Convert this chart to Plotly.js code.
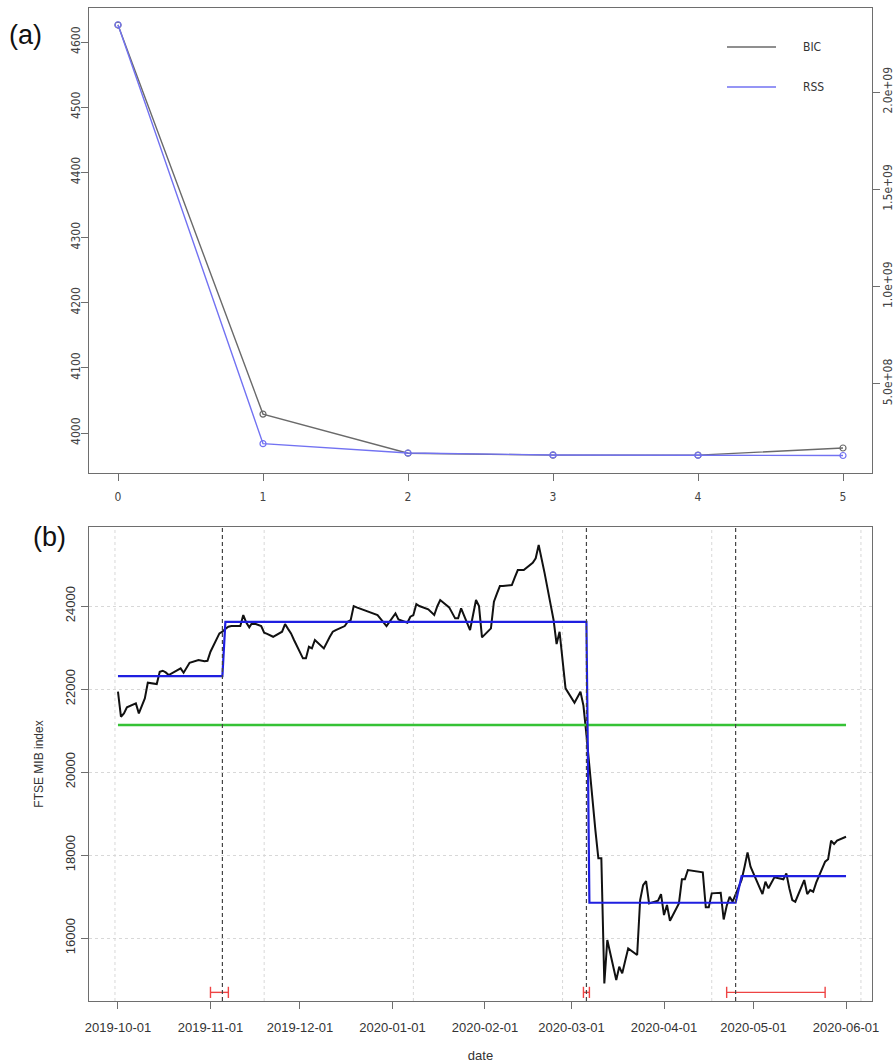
<!DOCTYPE html>
<html>
<head>
<meta charset="utf-8">
<script src="https://cdn.plot.ly/plotly-3.0.1.min.js"></script>
<style>html,body{margin:0;padding:0;background:#fff;}#chart{width:896px;height:1063px;}</style>
</head>
<body>
<div id="chart"></div>
<script>
// ---------- Panel (a) data ----------
const nBreaks = [0, 1, 2, 3, 4, 5];
const bicValues = [4626, 4029, 3969, 3966, 3966, 3977];
const rssValues = [2.346e9, 1.92e8, 1.44e8, 1.34e8, 1.32e8, 1.31e8];
const rssTickVals = [5e8, 1e9, 1.5e9, 2e9];
const rssTickText = ["5.0e+08", "1.0e+09", "1.5e+09", "2.0e+09"];
const bicTickVals = [4000, 4100, 4200, 4300, 4400, 4500, 4600];

// ---------- Panel (b) data ----------
const seriesDates = [
"2019-10-01","2019-10-02","2019-10-03","2019-10-04","2019-10-07","2019-10-08","2019-10-10","2019-10-11",
"2019-10-14","2019-10-15","2019-10-16","2019-10-17","2019-10-18","2019-10-21","2019-10-22","2019-10-23",
"2019-10-24","2019-10-25","2019-10-28","2019-10-29","2019-10-30","2019-10-31","2019-11-01","2019-11-04",
"2019-11-05","2019-11-06","2019-11-07","2019-11-08","2019-11-11","2019-11-12","2019-11-13","2019-11-14",
"2019-11-15","2019-11-18","2019-11-19","2019-11-20","2019-11-21","2019-11-22","2019-11-25","2019-11-26",
"2019-11-27","2019-11-28","2019-11-29","2019-12-02","2019-12-03","2019-12-04","2019-12-05","2019-12-06",
"2019-12-09","2019-12-10","2019-12-11","2019-12-12","2019-12-13","2019-12-16","2019-12-17","2019-12-18",
"2019-12-19","2019-12-20","2019-12-23","2019-12-27","2019-12-30","2020-01-02","2020-01-03","2020-01-06",
"2020-01-07","2020-01-08","2020-01-09","2020-01-10","2020-01-13","2020-01-14","2020-01-15","2020-01-16",
"2020-01-17","2020-01-20","2020-01-21","2020-01-22","2020-01-23","2020-01-24","2020-01-27","2020-01-28",
"2020-01-29","2020-01-30","2020-01-31","2020-02-03","2020-02-04","2020-02-05","2020-02-06","2020-02-07",
"2020-02-10","2020-02-11","2020-02-12","2020-02-13","2020-02-14","2020-02-17","2020-02-18","2020-02-19",
"2020-02-20","2020-02-21","2020-02-24","2020-02-25","2020-02-26","2020-02-27","2020-02-28","2020-03-02",
"2020-03-03","2020-03-04","2020-03-05","2020-03-06","2020-03-09","2020-03-10","2020-03-11","2020-03-12",
"2020-03-13","2020-03-16","2020-03-17","2020-03-18","2020-03-19","2020-03-20","2020-03-23","2020-03-24",
"2020-03-25","2020-03-26","2020-03-27","2020-03-30","2020-03-31","2020-04-01","2020-04-02","2020-04-03",
"2020-04-06","2020-04-07","2020-04-08","2020-04-09","2020-04-14","2020-04-15","2020-04-16","2020-04-17",
"2020-04-20","2020-04-21","2020-04-22","2020-04-23","2020-04-24","2020-04-27","2020-04-28","2020-04-29",
"2020-04-30","2020-05-04","2020-05-05","2020-05-06","2020-05-07","2020-05-08","2020-05-11","2020-05-12",
"2020-05-13","2020-05-14","2020-05-15","2020-05-18","2020-05-19","2020-05-20","2020-05-21","2020-05-22",
"2020-05-25","2020-05-26","2020-05-27","2020-05-28","2020-05-29","2020-06-01"];
const seriesValues = [
21935,21333,21414,21558,21655,21414,21775,22152,
22120,22417,22441,22400,22337,22458,22498,22393,
22520,22634,22699,22682,22670,22682,22899,23342,
23381,23450,23502,23518,23518,23783,23600,23486,
23598,23518,23357,23330,23290,23260,23381,23566,
23450,23340,23181,22739,22739,23019,22980,23181,
22980,23140,23260,23381,23422,23518,23622,23663,
24000,23968,23887,23783,23518,23823,23679,23598,
23743,23783,24048,24000,23920,23850,23783,23990,
24145,23968,23840,23703,23703,23944,23422,23780,
24145,24000,23245,23462,24104,24300,24482,24482,
24506,24690,24868,24868,24868,25044,25150,25470,
25130,24788,23663,23084,23381,22700,22017,21670,
21800,21935,21600,20900,18602,17920,17920,14907,
15951,14987,15307,15148,15450,15750,15590,16915,
17276,17373,16835,16900,17059,16553,16794,16416,
16835,17414,17414,17638,17582,16739,16739,17076,
17092,16448,16770,16995,16874,17397,17718,18064,
17718,17059,17357,17197,17330,17462,17414,17558,
17200,16915,16874,17397,17059,17156,17116,17333,
17839,17896,18344,18264,18350,18440];

const fitDates = ["2019-10-01","2019-11-05","2019-11-06","2020-03-06","2020-03-07","2020-04-25","2020-04-27","2020-06-01"];
const fitValues = [22313,22313,23618,23618,16850,16850,17490,17490];
const meanDates = ["2019-10-01","2020-06-01"];
const meanValues = [21132,21132];
const breakDates = ["2019-11-05","2020-03-06","2020-04-25"];
const ciLower = ["2019-11-01","2020-03-05","2020-04-22"];
const ciUpper = ["2019-11-07","2020-03-07","2020-05-25"];
const ciLevel = 14690;
const gridDates = ["2019-09-30","2019-11-19","2020-01-08","2020-02-27","2020-04-17","2020-06-06"];
const monthTicks = ["2019-10-01","2019-11-01","2019-12-01","2020-01-01","2020-02-01","2020-03-01","2020-04-01","2020-05-01","2020-06-01"];
const indexTicks = [16000, 18000, 20000, 22000, 24000];
const indexTickText = ["16000", "18000", "20000", "22000", "24000"];

// ---------- styling ----------
const narrow = "Liberation Sans Narrow, Arial Narrow, DejaVu Sans Condensed, sans-serif";
const sans = "Liberation Sans, Arial, sans-serif";
const frame = "#6e6e6e";
const bicColor = "#6a6a6a";
const rssColor = "#7272f2";

// CI segments built from arrays
const ciX = [], ciY = [];
for (let i = 0; i < ciLower.length; i++) {
  ciX.push(ciLower[i], ciUpper[i], null);
  ciY.push(ciLevel, ciLevel, null);
}

const traces = [
  {x: nBreaks, y: bicValues, xaxis: "x", yaxis: "y", mode: "lines", line: {color: bicColor, width: 1.4}, showlegend: false},
  {x: nBreaks, y: bicValues, xaxis: "x", yaxis: "y", mode: "markers", marker: {symbol: "circle-open", size: 6, color: bicColor, line: {width: 1.2}}, showlegend: false},
  {x: nBreaks, y: rssValues, xaxis: "x", yaxis: "y2", mode: "lines", line: {color: rssColor, width: 1.4}, showlegend: false},
  {x: nBreaks, y: rssValues, xaxis: "x", yaxis: "y2", mode: "markers", marker: {symbol: "circle-open", size: 6, color: rssColor, line: {width: 1.2}}, showlegend: false},

  {x: seriesDates, y: seriesValues, xaxis: "x2", yaxis: "y3", mode: "lines", line: {color: "#111111", width: 2}, showlegend: false},
  {x: meanDates, y: meanValues, xaxis: "x2", yaxis: "y3", mode: "lines", line: {color: "#36c236", width: 2.6}, showlegend: false},
  {x: fitDates, y: fitValues, xaxis: "x2", yaxis: "y3", mode: "lines", line: {color: "#1f1fe0", width: 2.2}, showlegend: false},
  {x: ciX, y: ciY, xaxis: "x2", yaxis: "y3", mode: "lines+markers", line: {color: "#ee4444", width: 1.4},
   marker: {symbol: "line-ns-open", size: 8, color: "#ee4444", line: {width: 1.4, color: "#ee4444"}}, showlegend: false}
];

const shapes = [];
gridDates.forEach(d => shapes.push({type: "line", xref: "x2", yref: "y3 domain", x0: d, x1: d, y0: 0, y1: 1,
  line: {color: "#d8d8d8", width: 1, dash: "dot"}, layer: "below"}));
breakDates.forEach(d => shapes.push({type: "line", xref: "x2", yref: "y3 domain", x0: d, x1: d, y0: 0, y1: 1,
  line: {color: "#444444", width: 1.2, dash: "4px,3px"}, layer: "above"}));
// legend samples for panel (a)
shapes.push({type: "line", xref: "paper", yref: "paper", x0: 0.8148, x1: 0.8774, y0: 0.9607, y1: 0.9607, line: {color: bicColor, width: 1.6}});
shapes.push({type: "line", xref: "paper", yref: "paper", x0: 0.8148, x1: 0.8774, y0: 0.9204, y1: 0.9204, line: {color: rssColor, width: 1.6}});

const annotations = [
  {text: "(a)", xref: "paper", yref: "paper", x: -0.081, y: 0.9728, xanchor: "center", yanchor: "middle", showarrow: false, font: {family: sans, size: 27, color: "#111"}},
  {text: "(b)", xref: "paper", yref: "paper", x: -0.050, y: 0.4673, xanchor: "center", yanchor: "middle", showarrow: false, font: {family: sans, size: 27, color: "#111"}},
  {text: "BIC", xref: "paper", yref: "paper", x: 0.9093, y: 0.9607, xanchor: "left", yanchor: "middle", showarrow: false, font: {family: narrow, size: 12, color: "#333"}},
  {text: "RSS", xref: "paper", yref: "paper", x: 0.9093, y: 0.9204, xanchor: "left", yanchor: "middle", showarrow: false, font: {family: narrow, size: 12, color: "#333"}}
];

const topTickFont = {family: narrow, size: 12, color: "#444"};
const botTickFont = {family: sans, size: 13, color: "#333"};

const layout = {
  width: 896, height: 1063,
  margin: {l: 89, r: 24, t: 8, b: 62},
  paper_bgcolor: "#ffffff", plot_bgcolor: "#ffffff",
  showlegend: false,
  xaxis: {domain: [0, 1], anchor: "y", range: [-0.2, 5.2], tickvals: nBreaks, ticks: "outside", ticklen: 7, tickcolor: frame,
    showline: true, linecolor: frame, linewidth: 1.2, mirror: true, showgrid: false, zeroline: false,
    tickfont: topTickFont, ticklabelstandoff: 5},
  yaxis: {domain: [0.5317, 1], anchor: "x", range: [3938.6, 4652.2], tickvals: bicTickVals, tickangle: -90, ticks: "outside", ticklen: 7, tickcolor: frame,
    showline: true, linecolor: frame, linewidth: 1.2, showgrid: false, zeroline: false, tickfont: topTickFont, ticklabelstandoff: -4},
  yaxis2: {overlaying: "y", side: "right", anchor: "x", range: [4.1e7, 2.432e9], tickvals: rssTickVals, ticktext: rssTickText, tickangle: -90,
    ticks: "outside", ticklen: 7, tickcolor: frame, showline: true, linecolor: frame, linewidth: 1.2, showgrid: false, zeroline: false,
    tickfont: topTickFont, ticklabelstandoff: -3},
  xaxis2: {domain: [0, 1], anchor: "y3", type: "date", range: ["2019-09-21 07:00", "2020-06-09 17:00"],
    tickvals: monthTicks, ticktext: monthTicks, ticks: "outside", ticklen: 7, tickcolor: frame,
    showline: true, linecolor: frame, linewidth: 1.2, mirror: true, showgrid: false, zeroline: false,
    tickfont: botTickFont, ticklabelstandoff: 7,
    title: {text: "date", font: {family: sans, size: 13, color: "#333"}, standoff: 18}},
  yaxis3: {domain: [0, 0.4773], anchor: "x2", range: [14482, 25904], tickvals: indexTicks, ticktext: indexTickText, tickangle: -90,
    ticks: "outside", ticklen: 7, tickcolor: frame, showline: true, linecolor: frame, linewidth: 1.2, mirror: true,
    showgrid: true, gridcolor: "#d8d8d8", griddash: "dot", gridwidth: 1, zeroline: false,
    tickfont: botTickFont, ticklabelstandoff: 1,
    title: {text: "FTSE MIB index", font: {family: sans, size: 12, color: "#333"}, standoff: 16}},
  shapes: shapes,
  annotations: annotations
};

Plotly.newPlot("chart", traces, layout, {staticPlot: true, displayModeBar: false});
</script>
</body>
</html>
